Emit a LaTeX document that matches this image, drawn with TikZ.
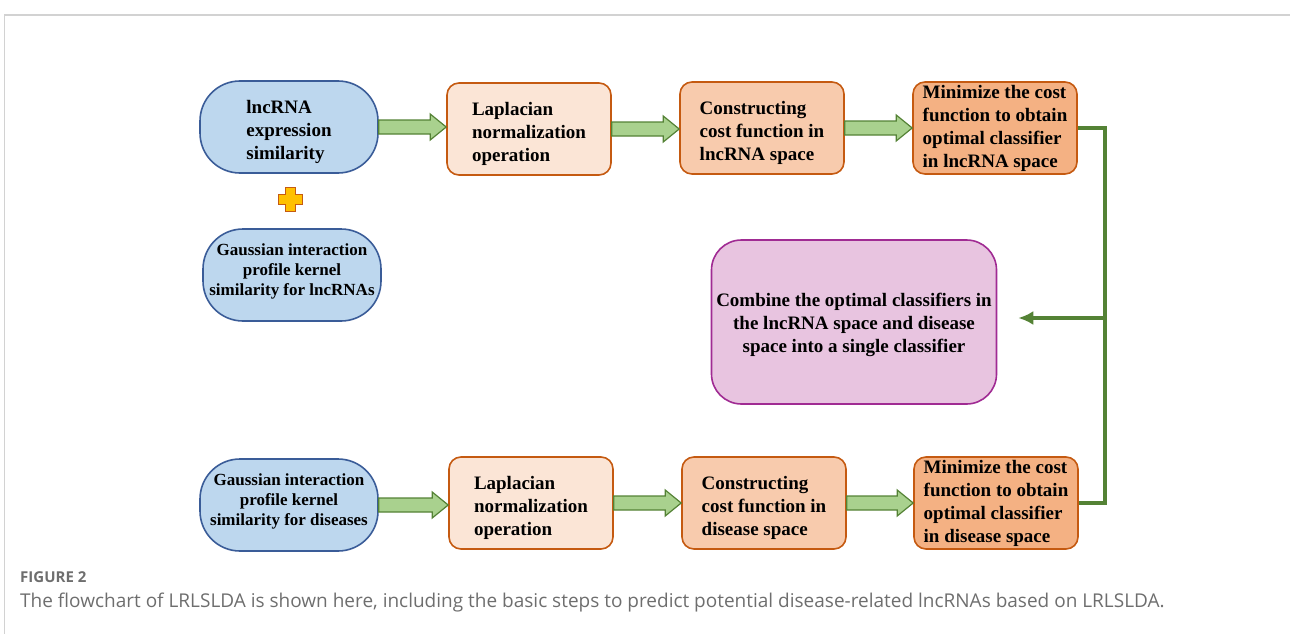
\documentclass[tikz,border=0pt]{standalone}
\usepackage{fontspec}
\setmainfont{Liberation Serif}
\newfontfamily\capfont{Open Sans}
\usetikzlibrary{calc,arrows.meta}

\definecolor{simfill}{HTML}{BDD7EE}
\definecolor{simline}{HTML}{3A5C98}
\definecolor{stepline}{HTML}{C55A11}
\definecolor{laplfill}{HTML}{FBE5D6}
\definecolor{costfill}{HTML}{F8CBAD}
\definecolor{minfill}{HTML}{F4B183}
\definecolor{combfill}{HTML}{E8C4E0}
\definecolor{combline}{HTML}{A02B93}
\definecolor{blkfill}{HTML}{A9D18E}
\definecolor{blkline}{HTML}{548235}
\definecolor{plusfill}{HTML}{FFC000}
\definecolor{capgray}{HTML}{6E6E6E}
\definecolor{framegray}{HTML}{D2D2D2}

\tikzset{
  simnode/.style={draw=simline, fill=simfill, line width=1.6pt, rounded corners=40pt,
    minimum width=178pt, minimum height=92pt, inner sep=2pt},
  gipnode/.style={simnode, align=center, font=\fontsize{17}{20}\selectfont\bfseries, text depth=10pt},
  stepnode/.style={draw=stepline, line width=1.6pt, rounded corners=12pt,
    minimum width=164pt, minimum height=92pt, align=left, inner sep=2pt},
  lowtext/.style={text height=70pt},
  blk/.style={draw=blkline, fill=blkfill, line width=1.2pt, line join=miter},
  link/.style={draw=blkline, line width=3.5pt},
  plusmark/.style={draw=stepline, fill=plusfill, line width=1.6pt},
}

% block arrow between two nodes
\newcommand{\blkarrow}[2]{\draw[blk] let \p1=(#1.east), \p2=(#2.west) in
  (\x1,\y1+7pt) -- (\x2-16pt,\y1+7pt) -- (\x2-16pt,\y1+13pt) -- (\x2,\y1)
  -- (\x2-16pt,\y1-13pt) -- (\x2-16pt,\y1-7pt) -- (\x1,\y1-7pt) -- cycle;}

\begin{document}
\begin{tikzpicture}[x=1pt,y=-1pt]
  \tikzstyle{every node}=[font=\fontsize{19}{23}\selectfont\bfseries]
  \useasboundingbox (0,0) rectangle (1290,634);
  \draw[framegray, line width=1pt] (4,634) -- (4,15);
  \draw[framegray, line width=2pt] (4,15) -- (1290,15);

  % similarity inputs
  \node[simnode, align=left, lowtext] (lncexp) at (289,127) {lncRNA\\expression\\similarity};
  \node[gipnode] (lncgip) at (292,275) {Gaussian interaction\\profile kernel\\similarity for lncRNAs};
  \node[gipnode] (disgip) at (289,505) {Gaussian interaction\\profile kernel\\similarity for diseases};

  % lncRNA space
  \node[stepnode, lowtext, fill=laplfill] (lapl1) at (529,129) {Laplacian\\normalization\\operation};
  \node[stepnode, lowtext, fill=costfill] (cost1) at (762,128) {Constructing\\cost function in\\lncRNA space};
  \node[stepnode, fill=minfill] (min1) at (995,128)
    {Minimize the cost\\function to obtain\\optimal classifier\\in lncRNA space};

  % disease space
  \node[stepnode, lowtext, fill=laplfill] (lapl2) at (531,503) {Laplacian\\normalization\\operation};
  \node[stepnode, lowtext, fill=costfill] (cost2) at (764,503) {Constructing\\cost function in\\disease space};
  \node[stepnode, fill=minfill] (min2) at (996,503)
    {Minimize the cost\\function to obtain\\optimal classifier\\in disease space};

  \node[draw=combline, fill=combfill, line width=1.6pt, rounded corners=30pt, text height=66pt,
    minimum width=285pt, minimum height=164pt, align=center] (comb) at (854,322)
    {Combine the optimal classifiers in\\the lncRNA space and disease\\space into a single classifier};

  % plus sign
  \coordinate (plus) at ($(lncexp.south)!0.47!(lncgip.north)$);
  \draw[plusmark, shift={(plus)}] (-5,-12) -- (5,-12) -- (5,-5) -- (12,-5) -- (12,5) -- (5,5)
    -- (5,12) -- (-5,12) -- (-5,5) -- (-12,5) -- (-12,-5) -- (-5,-5) -- cycle;

  \blkarrow{lncexp}{lapl1}
  \blkarrow{lapl1}{cost1}
  \blkarrow{cost1}{min1}
  \blkarrow{disgip}{lapl2}
  \blkarrow{lapl2}{cost2}
  \blkarrow{cost2}{min2}

  \coordinate (bus) at ($(min1.east)+(27,0)$);
  \coordinate (tip) at ($(comb.east)+(21,-4)$);
  \draw[link] (min1.east) -- (bus) |- (min2.east);
  \draw[link, -{Latex[length=15pt,width=14pt]}] (bus |- tip) -- (tip);

  % caption
  \node[anchor=west, inner sep=0pt, text=capgray, font=\capfont\bfseries\fontsize{15}{18}\selectfont] (figno) at (20,577) {FIGURE 2};
  \node[anchor=west, inner sep=0pt, text=capgray, font=\capfont\fontsize{19}{22}\selectfont] (figcap) at (20,603)
    {The flowchart of LRLSLDA is shown here, including the basic steps to predict potential disease-related lncRNAs based on LRLSLDA.};
\end{tikzpicture}
\end{document}
